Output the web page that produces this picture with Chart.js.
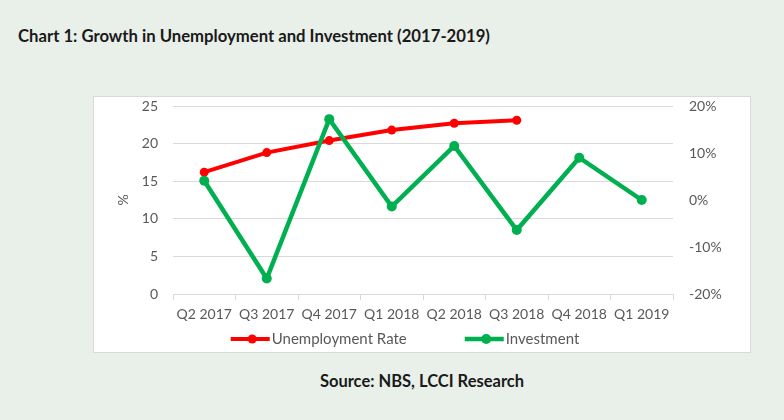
<!DOCTYPE html>
<html>
<head>
<meta charset="utf-8">
<script src="https://cdn.jsdelivr.net/npm/chart.js@4.4.1/dist/chart.umd.min.js"></script>
<style>
  html, body { margin: 0; padding: 0; }
  body { width: 784px; height: 420px; background: #e9efe9; position: relative; overflow: hidden; font-family: Lato, "Open Sans", sans-serif; }
  #title { position: absolute; left: 18px; top: 26px; font-size: 16.7px; font-weight: bold; color: #1a1a1a; line-height: 20px; }
  #panel { position: absolute; left: 93px; top: 96px; width: 658px; height: 257px; background: #fff; border: 1px solid #d9d9d9; box-sizing: border-box; }
  #source { position: absolute; left: 93px; width: 658px; top: 371px; text-align: center; font-size: 16.5px; font-weight: bold; color: #1a1a1a; line-height: 20px; }
</style>
</head>
<body>
<div id="title">Chart 1: Growth in Unemployment and Investment (2017-2019)</div>
<div id="panel"><canvas id="growthChart" width="656" height="255"></canvas></div>
<div id="source">Source: NBS, LCCI Research</div>
<script>
const quarters = ["Q2 2017", "Q3 2017", "Q4 2017", "Q1 2018", "Q2 2018", "Q3 2018", "Q4 2018", "Q1 2019"];
const unemploymentRate = [16.2, 18.8, 20.4, 21.8, 22.7, 23.1, null, null];
const investmentGrowth = [4.1, -16.7, 17.2, -1.4, 11.5, -6.4, 9.0, 0.0];

const tickColor = "#595959";
const gridColor = "#d9d9d9";
const tickFont = { family: "Lato", size: 14 };

// fixed axis box sizes so the plot area lands where the original one is
function fixWidth(w) {
    return s => {
        s.width = w;
        s.paddingTop = 0;
        s.paddingBottom = 0;
    };
}

// legend drawn by hand: line with a dot, then the label
const lineLegend = {
    id: "lineLegend",
    afterDraw(chart) {
        const ctx = chart.ctx;
        const sets = chart.data.datasets.slice().sort((a, b) => a.legendIndex - b.legendIndex);
        ctx.save();
        ctx.font = "15px Lato";
        const lineW = 39, gap = 2, between = 58;
        let total = 0;
        sets.forEach((d, i) => {
            total += lineW + gap + ctx.measureText(d.label).width + (i > 0 ? between : 0);
        });
        let x = (chart.width - total) / 2 - 17;
        const y = chart.height - 13;
        sets.forEach(d => {
            ctx.strokeStyle = d.borderColor;
            ctx.lineWidth = d.borderWidth;
            ctx.beginPath();
            ctx.moveTo(x, y);
            ctx.lineTo(x + lineW, y);
            ctx.stroke();
            ctx.fillStyle = d.borderColor;
            ctx.beginPath();
            ctx.arc(x + lineW / 2 + 2, y, d.pointRadius, 0, Math.PI * 2);
            ctx.fill();
            ctx.fillStyle = tickColor;
            ctx.textBaseline = "middle";
            ctx.fillText(d.label, x + lineW + gap, y);
            x += lineW + gap + ctx.measureText(d.label).width + between;
        });
        ctx.restore();
    }
};

const growthChart = new Chart(document.getElementById("growthChart").getContext("2d"), {
    type: "line",
    data: {
        labels: quarters,
        datasets: [{
            label: "Unemployment Rate",
            legendIndex: 0,
            data: unemploymentRate,
            yAxisID: "y",
            borderColor: "#ff0000",
            backgroundColor: "#ff0000",
            borderWidth: 4,
            pointRadius: 4.5,
            pointBorderWidth: 0,
            order: 1,
            fill: false,
            tension: 0
        }, {
            label: "Investment",
            legendIndex: 1,
            data: investmentGrowth,
            yAxisID: "y1",
            borderColor: "#00b050",
            backgroundColor: "#00b050",
            borderWidth: 4.5,
            pointRadius: 5,
            pointBorderWidth: 0,
            order: 0,
            fill: false,
            tension: 0
        }]
    },
    options: {
        responsive: false,
        animation: false,
        layout: { padding: { top: 9, left: 0, right: 0, bottom: 20 } },
        plugins: {
            legend: { display: false },
            tooltip: { enabled: false }
        },
        scales: {
            x: {
                offset: true,
                grid: { offset: true, drawOnChartArea: false, color: gridColor, tickLength: 6 },
                border: { color: gridColor },
                ticks: { color: tickColor, font: tickFont, padding: 6, maxRotation: 0, autoSkip: false },
                afterFit: s => { s.height = 38; }
            },
            y: {
                position: "left",
                min: 0,
                max: 25,
                ticks: { stepSize: 5, color: tickColor, font: tickFont, padding: 15 },
                grid: { color: gridColor, drawTicks: false },
                border: { display: false },
                title: { display: true, text: "%", color: tickColor, font: tickFont, padding: { top: 20.6, bottom: 0 } },
                afterFit: fixWidth(79)
            },
            y1: {
                position: "right",
                min: -20,
                max: 20,
                ticks: { stepSize: 10, color: tickColor, font: tickFont, padding: 16, callback: v => v + "%" },
                grid: { display: false, drawTicks: false, drawOnChartArea: false },
                border: { display: false },
                afterFit: fixWidth(77)
            }
        }
    },
    plugins: [lineLegend]
});
</script>
</body>
</html>
